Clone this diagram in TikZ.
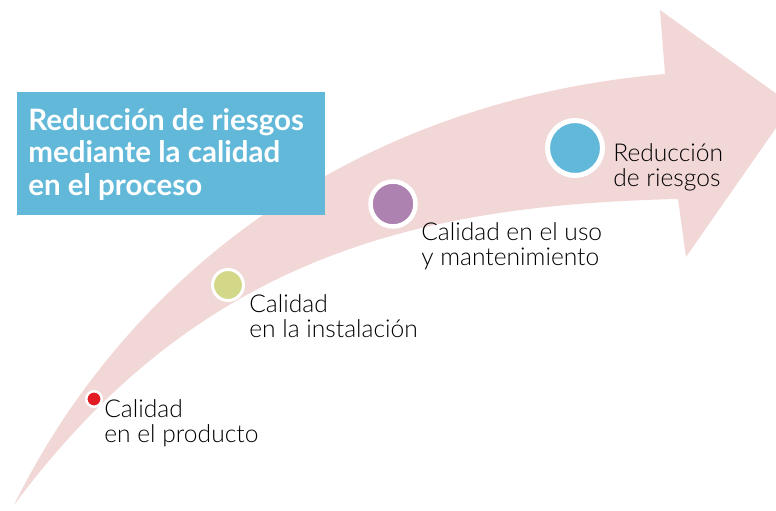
\documentclass[tikz,border=0pt]{standalone}
\usepackage{fontspec}
\setmainfont{Lato}
\IfFontExistsTF{Lato Light}{\newfontfamily\labelfont{Lato Light}}{\newfontfamily\labelfont{Lato}}
\usetikzlibrary{positioning}
\definecolor{flechapink}{HTML}{F2D7D7}
\definecolor{cajablue}{HTML}{62B8D8}
\definecolor{puntored}{HTML}{E31B23}
\definecolor{puntogreen}{HTML}{D2D888}
\definecolor{puntopurple}{HTML}{AD82B1}
\tikzset{punto/.style = {circle, inner sep=0pt, draw=white, fill=#1}}
\tikzset{etiqueta/.style = {anchor=base west, align=left, inner sep=0pt,
                            font=\labelfont\fontsize{14}{13.7}\selectfont}}
\tikzset{titulo/.style = {anchor=base west, align=left, inner sep=0pt, text=white,
                          font=\bfseries\fontsize{16.8}{18.4}\selectfont}}

\begin{document}
\begin{tikzpicture}[x=0.02cm, y=-0.02cm]
      \useasboundingbox (0, 0) rectangle (776, 510);
      \clip (0, 0) rectangle (776, 510);
      % curved arrow
      \fill [flechapink] (14, 505) .. controls (130, 270) and (360, 100) .. (665, 74)
            -- (660, 10) -- (792, 105) -- (686, 257) -- (678, 199)
            .. controls (420, 205) and (200, 255) .. (14, 505) -- cycle;
      % title box
      \fill [cajablue] (17, 92) rectangle (325, 215);
      \node [titulo] (titulo) at (28, 195) {Reducción de riesgos\\mediante la calidad\\en el proceso};
      % steps
      \node [punto=puntored, minimum size=0.31cm, line width=0.05cm] (producto) at (94, 399) {};
      \node [punto=puntogreen, minimum size=0.62cm, line width=0.06cm] (instalacion) at (228, 285) {};
      \node [punto=puntopurple, minimum size=0.9cm, line width=0.09cm] (uso) at (393, 204) {};
      \node [punto=cajablue, minimum size=1.1cm, line width=0.1cm] (reduccion) at (575, 148) {};
      \node [etiqueta] (productotxt) at (104, 442) {Calidad\\en el producto};
      \node [etiqueta] (instalaciontxt) at (249, 337) {Calidad\\en la instalación};
      \node [etiqueta] (usotxt) at (421, 265) {Calidad en el uso\\y mantenimiento};
      \node [etiqueta] (reducciontxt) at (613, 186) {Reducción\\de riesgos};
    \end{tikzpicture}
\end{document}
